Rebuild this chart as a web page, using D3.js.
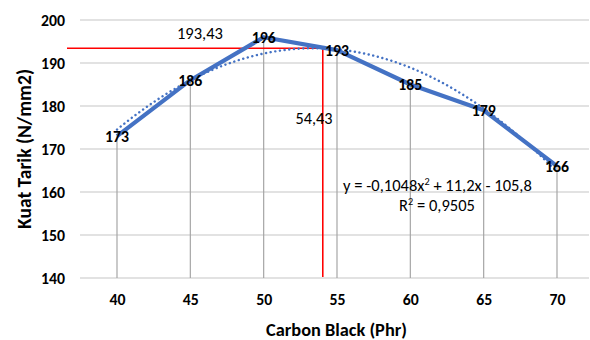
<!DOCTYPE html>
<html><head><meta charset="utf-8">
<script src="https://cdn.jsdelivr.net/npm/d3@7"></script>
<style>
html,body{margin:0;padding:0;background:#fff;}
text{font-family:Carlito,Calibri,Lato,"Open Sans",sans-serif;}
</style></head>
<body><svg id="c" width="590" height="340"></svg>
<script>
const xValues = [40, 45, 50, 55, 60, 65, 70];
const yValues = [173, 186, 196, 193, 185, 179, 166];
const yTicks = [140, 150, 160, 170, 180, 190, 200];
const trendCoef = [-0.1048, 11.2, -105.8];
const optimumLabelX = "54,43";
const optimumLabelY = "193,43";
const optimumY = 193.43;
const optimumLineX = 54.03;
const eqText = "y = -0,1048x";
const eqRest = " + 11,2x - 105,8";
const r2Text = " = 0,9505";

const svg = d3.select("#c");
const blue = "#4472C4";
const x = d3.scaleLinear().domain([40, 70]).range([117, 557]);
const y = d3.scaleLinear().domain([140, 200]).range([278, 20]);
const left = 80, right = 589;

// scale font so a text reaches a target width
function fit(sel, target) {
  const node = sel.node();
  const fs = parseFloat(sel.attr("font-size"));
  const w = node.getComputedTextLength();
  if (w > 0) sel.attr("font-size", (fs * target / w).toFixed(2));
  return parseFloat(sel.attr("font-size"));
}

// gridlines
svg.append("g").selectAll("line").data(yTicks).join("line")
  .attr("x1", left).attr("x2", right)
  .attr("y1", d => y(d)).attr("y2", d => y(d))
  .attr("stroke", "#d9d9d9").attr("stroke-width", 1.3);

// measure number size
const probe = svg.append("text").attr("font-size", 14).attr("font-weight", "bold").text("200");
const numSize = fit(probe, 24);
probe.remove();

// y tick labels
const yAxis = d3.axisLeft(y).tickValues(yTicks).tickSize(0).tickPadding(0).tickFormat(d3.format("d"));
const gy = svg.append("g").attr("transform", `translate(${left - 15},0)`).call(yAxis);
gy.select(".domain").remove();
gy.selectAll("text").attr("font-size", numSize).attr("font-weight", "bold").attr("fill", "#000")
  .style("font-family", "Carlito,Calibri,Lato,sans-serif");

// x tick labels
const xAxis = d3.axisBottom(x).tickValues(xValues).tickSize(0).tickPadding(0).tickFormat(d3.format("d"));
const gx = svg.append("g").attr("transform", `translate(0,${y(140) + 16})`).call(xAxis);
gx.select(".domain").remove();
gx.selectAll("text").attr("font-size", numSize).attr("font-weight", "bold").attr("fill", "#000")
  .style("font-family", "Carlito,Calibri,Lato,sans-serif");

// drop lines
const data = xValues.map((v, i) => ({x: v, y: yValues[i]}));
svg.append("g").selectAll("line").data(data).join("line")
  .attr("x1", d => x(d.x)).attr("x2", d => x(d.x))
  .attr("y1", d => y(d.y)).attr("y2", y(140))
  .attr("stroke", "#a6a6a6").attr("stroke-width", 1.2);

// red optimum lines
svg.append("line").attr("x1", 67).attr("x2", x(optimumLineX))
  .attr("y1", y(optimumY)).attr("y2", y(optimumY)).attr("stroke", "#ff0000").attr("stroke-width", 1.6);
svg.append("line").attr("x1", x(optimumLineX)).attr("x2", x(optimumLineX))
  .attr("y1", y(optimumY)).attr("y2", y(140) - 1).attr("stroke", "#ff0000").attr("stroke-width", 1.6);

// main line
svg.append("path").datum(data)
  .attr("d", d3.line().x(d => x(d.x)).y(d => y(d.y)))
  .attr("fill", "none").attr("stroke", blue).attr("stroke-width", 4.2).attr("stroke-linejoin", "round");

// trendline
const tr = d3.range(40, 70.01, 0.25).map(v => ({x: v, y: trendCoef[0]*v*v + trendCoef[1]*v + trendCoef[2]}));
svg.append("path").datum(tr)
  .attr("d", d3.line().x(d => x(d.x)).y(d => y(d.y)))
  .attr("fill", "none").attr("stroke", blue).attr("stroke-width", 2.4)
  .attr("stroke-dasharray", "0.1,4.6").attr("stroke-linecap", "round");

// data labels
svg.append("g").selectAll("text").data(data).join("text")
  .attr("x", d => x(d.x)).attr("y", d => y(d.y) + 5.5)
  .attr("text-anchor", "middle").attr("font-size", numSize).attr("font-weight", "bold").attr("fill", "#000")
  .text(d => d.y);

// annotation labels
const a1 = svg.append("text").attr("x", 200).attr("y", 38.5).attr("text-anchor", "middle")
  .attr("font-size", 14).attr("fill", "#000").text(optimumLabelY);
fit(a1, 46);
const a2 = svg.append("text").attr("x", 314).attr("y", 123.5).attr("text-anchor", "middle")
  .attr("font-size", 14).attr("fill", "#000").text(optimumLabelX);
fit(a2, 37);

// equation
const eq = svg.append("text").attr("x", 437.5).attr("y", 190.5).attr("text-anchor", "middle")
  .attr("font-size", 14).attr("fill", "#000");
eq.append("tspan").text(eqText);
const s1 = eq.append("tspan").attr("dy", -5).attr("font-size", 9).text("2");
const s2 = eq.append("tspan").attr("dy", 5).text(eqRest);
const eqSize = fit(eq, 189);
s1.attr("font-size", eqSize * 0.62).attr("dy", -eqSize * 0.35);
s2.attr("dy", eqSize * 0.35);
const r2 = svg.append("text").attr("x", 437).attr("y", 210.5).attr("text-anchor", "middle")
  .attr("font-size", eqSize).attr("fill", "#000");
r2.append("tspan").text("R");
r2.append("tspan").attr("dy", -eqSize * 0.35).attr("font-size", eqSize * 0.62).text("2");
r2.append("tspan").attr("dy", eqSize * 0.35).text(r2Text);

// axis titles
const xt = svg.append("text").attr("x", 336.5).attr("y", 336).attr("text-anchor", "middle")
  .attr("font-size", 15).attr("font-weight", "bold").attr("fill", "#000").text("Carbon Black (Phr)");
fit(xt, 141);
const yt = svg.append("text").attr("transform", `translate(31,149) rotate(-90)`).attr("text-anchor", "middle")
  .attr("font-size", 15).attr("font-weight", "bold").attr("fill", "#000").text("Kuat Tarik (N/mm2)");
fit(yt, 160);
</script></body></html>
